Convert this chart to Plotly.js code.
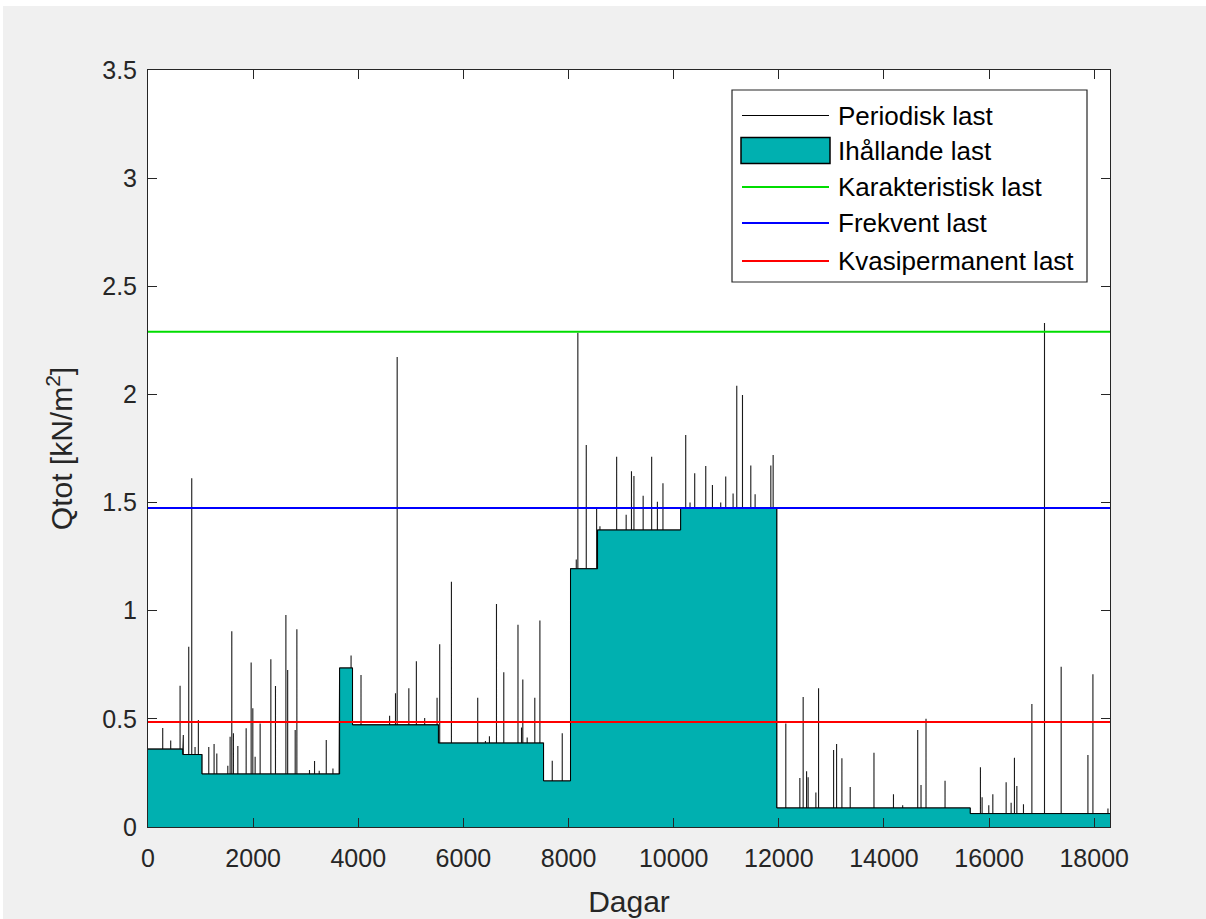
<!DOCTYPE html>
<html>
<head>
<meta charset="utf-8">
<script src="https://cdn.plot.ly/plotly-3.0.1.min.js"></script>
<style>
  html, body { margin: 0; padding: 0; background: #ffffff; width: 1206px; height: 919px; overflow: hidden; }
  #chart { position: absolute; left: 3px; top: 6px; width: 1203px; height: 913px; }
</style>
</head>
<body>
<div id="chart"></div>
<script>
// ---- data ----
const dayEnd = 18300;

// Sustained load (Ihållande last): step start day and level [kN/m2]
const stepStart = [0, 660, 1025, 3645, 3890, 5524, 7524, 8038, 8552, 10133, 11960, 15640];
const stepLevel = [0.36, 0.335, 0.245, 0.735, 0.472, 0.388, 0.213, 1.194, 1.373, 1.475, 0.088, 0.062];

// Periodic load peaks (Periodisk last): day and total load at the peak
const spikeDay = [280, 432, 610, 672, 775, 832, 895, 958, 1156, 1257, 1309, 1518, 1562, 1594, 1625, 1709,
  1867, 1962, 1994, 2038, 2133, 2337, 2425, 2623, 2657, 2800, 2832, 3072, 3168, 3257, 3391, 3518, 3635,
  3863, 4052, 4596, 4708, 4740, 4962, 5105, 5263, 5499, 5549, 5772, 6272, 6419, 6495, 6629, 6768, 7038,
  7105, 7130, 7213, 7358, 7455, 7690, 7880, 8147, 8177, 8337, 8534, 8597, 8915, 9096, 9197, 9244, 9419,
  9581, 9690, 9796, 10229, 10311, 10400, 10610, 10737, 10895, 10990, 11130, 11200, 11309, 11467, 11549,
  11848, 11892, 12133, 12400, 12463, 12528, 12558, 12705, 12756, 13042, 13099, 13200, 13358, 13810, 14181,
  14356, 14642, 14705, 14800, 15162, 15835, 15867, 15994, 16071, 16324, 16419, 16482, 16528, 16654, 16814,
  17054, 17371, 17880, 17975, 18261];
const spikePeak = [0.458, 0.40, 0.653, 0.425, 0.833, 1.613, 0.37, 0.495, 0.37, 0.384, 0.34, 0.283, 0.417, 0.905, 0.433, 0.374,
  0.456, 0.76, 0.549, 0.325, 0.479, 0.776, 0.652, 0.98, 0.726, 0.448, 0.914, 0.263, 0.305, 0.26, 0.402, 0.27, 0.54,
  0.793, 0.703, 0.514, 0.618, 2.173, 0.642, 0.766, 0.504, 0.598, 0.845, 1.134, 0.598, 0.398, 0.42, 1.031, 0.715, 0.935,
  0.46, 0.682, 0.414, 0.598, 0.955, 0.306, 0.433, 1.237, 2.285, 1.766, 1.47, 1.39, 1.712, 1.444, 1.645, 1.623, 1.532,
  1.712, 1.504, 1.589, 1.812, 1.5, 1.635, 1.669, 1.581, 1.5, 1.62, 1.542, 2.04, 1.997, 1.671, 1.538,
  1.671, 1.72, 0.479, 0.226, 0.601, 0.258, 0.23, 0.16, 0.641, 0.356, 0.384, 0.318, 0.185, 0.343, 0.151,
  0.1, 0.448, 0.194, 0.5, 0.214, 0.276, 0.137, 0.1, 0.151, 0.207, 0.112, 0.32, 0.19, 0.105, 0.569,
  2.33, 0.741, 0.333, 0.706, 0.086];

// Design load levels
const karakteristisk = 2.29;
const frekvent = 1.475;
const kvasipermanent = 0.485;

// Series names and colours (legend order)
const seriesNames = ['Periodisk last', 'Ihållande last', 'Karakteristisk last', 'Frekvent last', 'Kvasipermanent last'];
const seriesColors = ['#000000', '#00b0b0', '#00dd00', '#0000ff', '#ff0000'];

// ---- build traces ----
function baseAt(d) {
  let lv = stepLevel[0];
  for (let i = 0; i < stepStart.length; i++) { if (d >= stepStart[i]) lv = stepLevel[i]; }
  return lv;
}

const events = [];
stepStart.forEach((s, i) => { if (i > 0) events.push({t: 'step', d: s, i: i}); });
spikeDay.forEach((d, i) => events.push({t: 'spike', d: d, i: i}));
events.sort((a, b) => a.d - b.d);
const px = [0], py = [stepLevel[0]];
events.forEach(e => {
  if (e.t === 'step') {
    px.push(e.d, e.d); py.push(stepLevel[e.i - 1], stepLevel[e.i]);
  } else {
    const b = baseAt(e.d);
    px.push(e.d, e.d, e.d); py.push(b, spikePeak[e.i], b);
  }
});
px.push(dayEnd); py.push(stepLevel[stepLevel.length - 1]);

const ax = stepStart.concat([dayEnd]);
const ay = stepLevel.concat([stepLevel[stepLevel.length - 1]]);

const font = "Arial, 'Liberation Sans', Helvetica, sans-serif";
const txt = '#262626';

const traces = [
  {x: px, y: py, type: 'scatter', mode: 'lines', name: seriesNames[0],
   line: {color: '#1a1a1a', width: 1.1}},
  {x: ax, y: ay, type: 'scatter', mode: 'lines', name: seriesNames[1],
   line: {color: '#000000', width: 1, shape: 'hv'}, fill: 'tozeroy', fillcolor: seriesColors[1]},
  {x: [0, dayEnd], y: [karakteristisk, karakteristisk], type: 'scatter', mode: 'lines',
   name: seriesNames[2], line: {color: seriesColors[2], width: 2}},
  {x: [0, dayEnd], y: [frekvent, frekvent], type: 'scatter', mode: 'lines',
   name: seriesNames[3], line: {color: seriesColors[3], width: 2}},
  {x: [0, dayEnd], y: [kvasipermanent, kvasipermanent], type: 'scatter', mode: 'lines',
   name: seriesNames[4], line: {color: seriesColors[4], width: 2}}
];

// ---- legend box (drawn in paper coordinates, MATLAB style) ----
const plotL = 148, plotR = 1110, plotT = 70, plotB = 827;
const fx = p => (p - plotL) / (plotR - plotL);
const fy = p => (plotB - p) / (plotB - plotT);
const rowY = [115.5, 150.5, 187, 223, 261];
const shapes = [
  {type: 'rect', xref: 'paper', yref: 'paper', x0: fx(732), x1: fx(1087), y0: fy(282), y1: fy(90),
   fillcolor: '#ffffff', line: {color: txt, width: 1.2}}
];
const annotations = [];
seriesNames.forEach((n, i) => {
  if (i === 1) {
    shapes.push({type: 'rect', xref: 'paper', yref: 'paper', x0: fx(741), x1: fx(830),
      y0: fy(rowY[i] + 13), y1: fy(rowY[i] - 13), fillcolor: seriesColors[i], line: {color: '#000000', width: 1.5}});
  } else {
    shapes.push({type: 'line', xref: 'paper', yref: 'paper', x0: fx(742), x1: fx(829),
      y0: fy(rowY[i]), y1: fy(rowY[i]), line: {color: seriesColors[i], width: i === 0 ? 1.2 : 2.2}});
  }
  annotations.push({xref: 'paper', yref: 'paper', x: fx(836), y: fy(rowY[i]), xanchor: 'left', yanchor: 'middle',
    text: n, showarrow: false, font: {family: font, size: 26, color: '#000000'}});
});

const layout = {
  width: 1203, height: 913,
  margin: {l: 145, r: 96, t: 64, b: 92, pad: 0},
  paper_bgcolor: '#f0f0f0',
  plot_bgcolor: '#ffffff',
  font: {family: font, size: 25, color: txt},
  showlegend: false,
  shapes: shapes,
  annotations: annotations,
  xaxis: {
    range: [0, dayEnd], tick0: 0, dtick: 2000, tickformat: 'd', ticks: 'inside', ticklen: 9, tickwidth: 1,
    tickcolor: txt, showline: true, linecolor: txt, linewidth: 1, mirror: 'ticks',
    showgrid: false, zeroline: false, tickfont: {size: 25, color: txt}, ticklabelstandoff: 9,
    title: {text: 'Dagar', font: {size: 30, color: txt}, standoff: 19}
  },
  yaxis: {
    range: [0, 3.5], tick0: 0, dtick: 0.5, ticks: 'inside', ticklen: 9, tickwidth: 1,
    tickcolor: txt, showline: true, linecolor: txt, linewidth: 1, mirror: 'ticks',
    showgrid: false, zeroline: false, tickfont: {size: 25, color: txt}, ticklabelstandoff: 5,
    title: {text: 'Qtot [kN/m<sup>2</sup>]', font: {size: 30, color: txt}, standoff: 20}
  }
};

Plotly.newPlot('chart', traces, layout, {displayModeBar: false, staticPlot: true});
</script>
</body>
</html>
